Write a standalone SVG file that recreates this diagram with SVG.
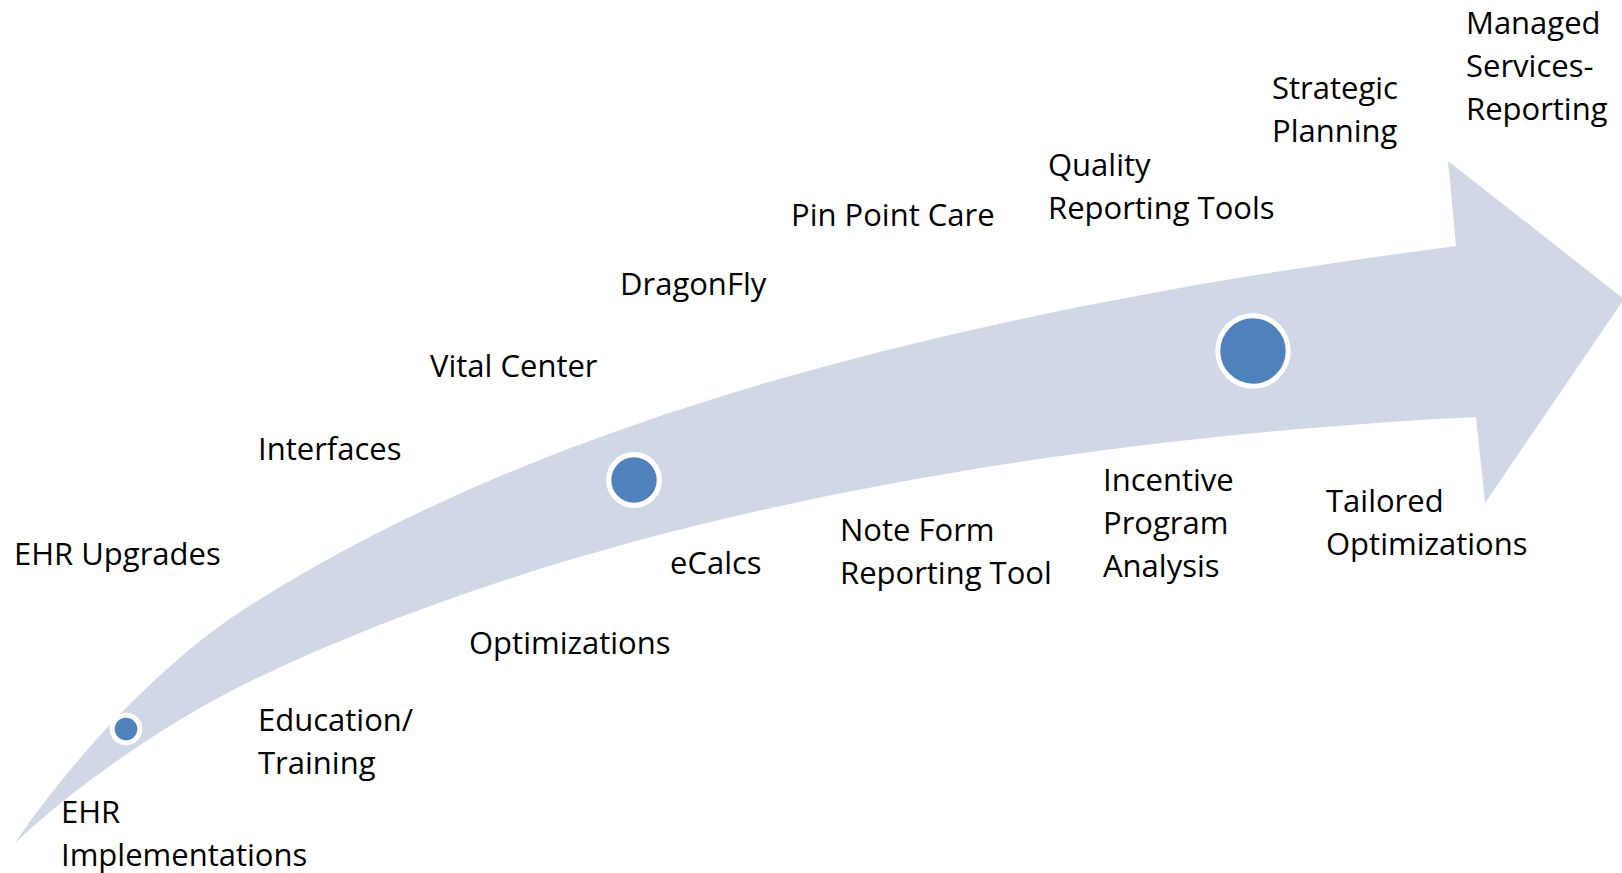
<svg xmlns="http://www.w3.org/2000/svg" width="1622" height="873" viewBox="0 0 1622 873">
<style>
text{font-family:"Open Sans","Noto Sans","Liberation Sans",sans-serif;font-size:31px;fill:#000}
.dot{fill:#4F81BD;stroke:#fff}
.band{fill:#D0D8E8}
</style>
<rect width="1622" height="873" fill="#fff"/>
<g id="connectors">
<path class="band" d="M15,843 C76.3,752.3 166.3,660 240,612 C540,417 966.4,309.6 1456,246 L1448,161 L1624,299 L1485,503 L1476,417 C1023.8,439.6 581.6,522.3 253,680 C172.5,718.6 77.3,783.8 15,843 Z"/>
</g>
<g id="milestone-1"><circle class="dot" cx="126" cy="729" r="13.8" stroke-width="5"/></g>
<g id="milestone-2"><circle class="dot" cx="634" cy="480" r="25.3" stroke-width="5.2"/></g>
<g id="milestone-3"><circle class="dot" cx="1253" cy="351" r="35.2" stroke-width="5"/></g>
<g id="ehr-upgrades"><text x="14" y="565">EHR Upgrades</text></g>
<g id="interfaces"><text x="258" y="460">Interfaces</text></g>
<g id="vital-center"><text x="430" y="377">Vital Center</text></g>
<g id="dragonfly"><text x="620" y="295">DragonFly</text></g>
<g id="pin-point-care"><text x="791" y="226">Pin Point Care</text></g>
<g id="quality-reporting"><text x="1048" y="176">Quality</text><text x="1048" y="219">Reporting Tools</text></g>
<g id="strategic-planning"><text x="1272" y="99">Strategic</text><text x="1272" y="142">Planning</text></g>
<g id="managed-services"><text x="1466" y="34">Managed</text><text x="1466" y="77">Services-</text><text x="1466" y="120">Reporting</text></g>
<g id="ehr-implementations"><text x="61" y="823">EHR</text><text x="61" y="866">Implementations</text></g>
<g id="education-training"><text x="258" y="731">Education/</text><text x="258" y="774">Training</text></g>
<g id="optimizations"><text x="469" y="654">Optimizations</text></g>
<g id="ecalcs"><text x="670" y="574">eCalcs</text></g>
<g id="note-form"><text x="840" y="541">Note Form</text><text x="840" y="584">Reporting Tool</text></g>
<g id="incentive"><text x="1103" y="491">Incentive</text><text x="1103" y="534">Program</text><text x="1103" y="577">Analysis</text></g>
<g id="tailored"><text x="1326" y="512">Tailored</text><text x="1326" y="555">Optimizations</text></g>
</svg>
